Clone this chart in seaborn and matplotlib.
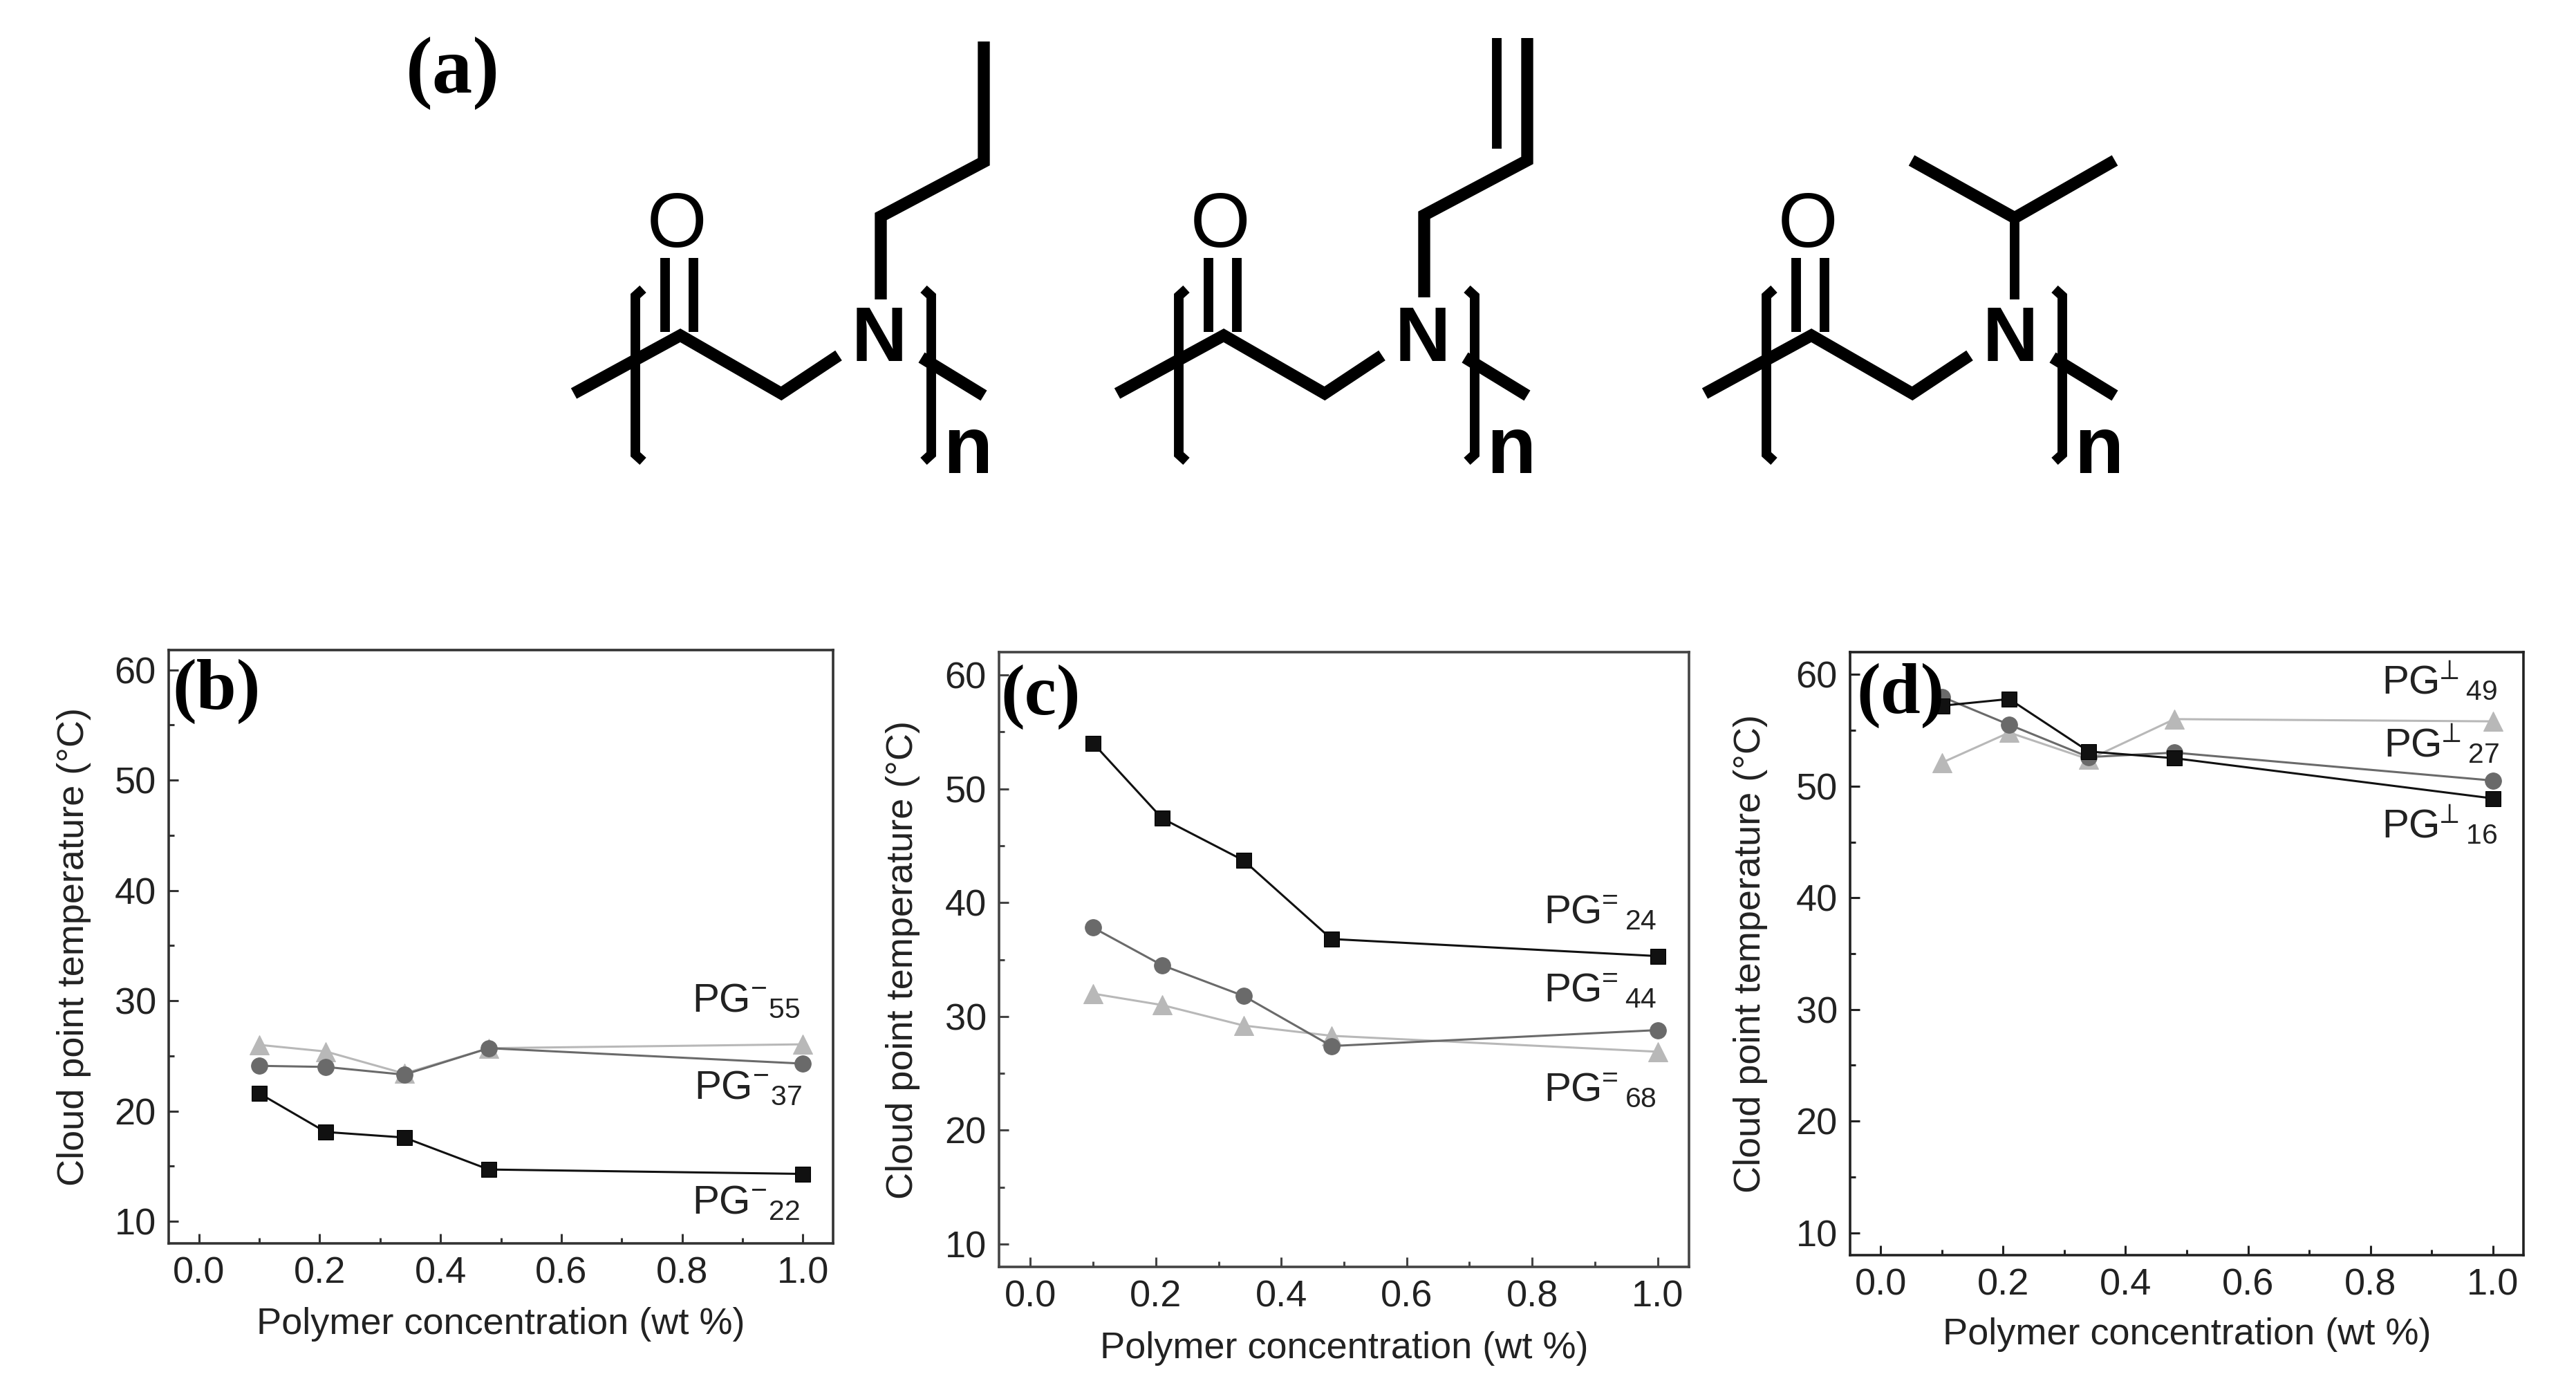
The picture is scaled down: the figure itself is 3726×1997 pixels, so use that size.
import matplotlib
matplotlib.use("Agg")
import matplotlib.pyplot as plt
import seaborn as sns

sns.set_theme(style="ticks")
plt.rcParams["font.family"] = ["Liberation Sans", "DejaVu Sans"]
plt.rcParams["mathtext.fontset"] = "custom"
plt.rcParams["mathtext.rm"] = "Liberation Sans"
plt.rcParams["mathtext.default"] = "rm"

W, H = 3726, 1997

# Data
conc = [0.1, 0.21, 0.34, 0.48, 1.0]

b_square = [21.6, 18.1, 17.6, 14.7, 14.3]
b_circle = [24.1, 24.0, 23.3, 25.7, 24.3]
b_triangle = [26.0, 25.4, 23.4, 25.7, 26.05]

c_square = [54.0, 47.4, 43.7, 36.8, 35.3]
c_circle = [37.8, 34.5, 31.8, 27.4, 28.8]
c_triangle = [32.0, 31.0, 29.2, 28.3, 26.9]

d_square = [57.2, 57.8, 53.1, 52.5, 48.9]
d_circle = [58.0, 55.5, 52.6, 53.0, 50.5]
d_triangle = [52.1, 54.8, 52.4, 56.0, 55.8]

x_ticks = [0.0, 0.2, 0.4, 0.6, 0.8, 1.0]
y_ticks = [10, 20, 30, 40, 50, 60]
x_label = "Polymer concentration (wt %)"
y_label = "Cloud point temperature (°C)"


def pg(sym, n):
    if sym == "-":
        return r"$PG{}^{-}{}_{%s}$" % n
    return r"$PG\!{}^{%s}{}_{%s}$" % (sym, n)


# panel settings: box in pixels, limits, label, series, annotations
panels = [
    dict(box=(244, 940, 1205, 1798), ylim=(8.0, 61.8), tag="(b)", tag_xy=(249, 1025),
         xlab_y=1915, ylab_x=107, sq=b_square, ci=b_circle, tr=b_triangle,
         notes=[(pg("-", 55), 0.817, 29.0), (pg("-", 37), 0.82, 21.1), (pg("-", 22), 0.817, 10.7)],
         spine="#333333"),
    dict(box=(1445, 943, 2443, 1832), ylim=(8.0, 62.0), tag="(c)", tag_xy=(1447, 1033),
         xlab_y=1950, ylab_x=1306, sq=c_square, ci=c_circle, tr=c_triangle,
         notes=[(pg("=", 24), 0.818, 38.2), (pg("=", 44), 0.818, 31.3), (pg("=", 68), 0.818, 22.55)],
         spine="#444444"),
    dict(box=(2676, 943, 3650, 1815), ylim=(8.0, 62.0), tag="(d)", tag_xy=(2685, 1031),
         xlab_y=1930, ylab_x=2532, sq=d_square, ci=d_circle, tr=d_triangle,
         notes=[(pg(r"\perp", 49), 0.818, 58.3), (pg(r"\perp", 27), 0.822, 52.6), (pg(r"\perp", 16), 0.818, 45.4)],
         spine="#222222"),
]

fig = plt.figure(figsize=(W / 100, H / 100), dpi=100, facecolor="white")

for p in panels:
    x0, y0, x1, y1 = p["box"]
    ax = fig.add_axes([x0 / W, 1 - y1 / H, (x1 - x0) / W, (y1 - y0) / H])
    sns.lineplot(x=conc, y=p["tr"], ax=ax, color="#b8b8b8", marker="^", markersize=20, linewidth=2.2,
                 markeredgecolor="#b8b8b8", errorbar=None)
    sns.lineplot(x=conc, y=p["ci"], ax=ax, color="#6a6a6a", marker="o", markersize=17, linewidth=2.2,
                 markeredgecolor="#6a6a6a", errorbar=None)
    sns.lineplot(x=conc, y=p["sq"], ax=ax, color="#111111", marker="s", markersize=16, linewidth=2.2,
                 markeredgecolor="#000000", errorbar=None)
    ax.set_xlim(-0.05, 1.05)
    ax.set_ylim(*p["ylim"])
    ax.set_xticks(x_ticks)
    ax.set_xticklabels(["%.1f" % t for t in x_ticks])
    ax.set_yticks(y_ticks)
    ax.set_xticks([0.1, 0.3, 0.5, 0.7, 0.9], minor=True)
    ax.set_yticks([15, 25, 35, 45, 55], minor=True)
    ax.tick_params(axis="both", which="major", direction="in", length=10, width=2.2, color=p["spine"],
                   labelsize=39, labelcolor="#222222", pad=13)
    ax.tick_params(axis="both", which="minor", direction="in", length=6, width=2.2, color=p["spine"])
    for s in ax.spines.values():
        s.set_linewidth(2.6)
        s.set_color(p["spine"])
        s.set_visible(True)
    ax.set_xlabel(x_label, fontsize=39, color="#222222")
    ax.set_ylabel(y_label, fontsize=39, color="#222222")
    ax.xaxis.set_label_coords(0.5, (y1 - p["xlab_y"]) / (y1 - y0), transform=ax.transAxes)
    ax.yaxis.set_label_coords((p["ylab_x"] - x0) / (x1 - x0), 0.5, transform=ax.transAxes)
    ax.xaxis.label.set_verticalalignment("center")
    ax.yaxis.label.set_verticalalignment("center")
    for txt, nx, ny in p["notes"]:
        ax.text(nx, ny, txt, fontsize=42, color="#222222", va="baseline", ha="left")

# overlay in pixel coordinates for the structures and panel tags
ov = fig.add_axes([0, 0, 1, 1], facecolor="none")
ov.set_xlim(0, W)
ov.set_ylim(H, 0)
ov.axis("off")

serif = ["Liberation Serif", "DejaVu Serif"]
ov.text(587, 133, "(a)", fontsize=84, fontweight="bold", family=serif, color="black", va="baseline")
for p in panels:
    ov.text(p["tag_xy"][0], p["tag_xy"][1], p["tag"], fontsize=75, fontweight="bold", family=serif,
            color="black", va="baseline")


def stroke(pts, dx=0, lw=12.5):
    ov.plot([q[0] + dx for q in pts], [q[1] for q in pts], color="black", lw=lw,
            solid_capstyle="butt", solid_joinstyle="miter")


backbone = [(830, 569), (984, 485), (1130, 569), (1213, 514)]
right_arm = [(1333, 517), (1423, 572)]
carbonyl_a = [(962, 373), (962, 480)]
carbonyl_b = [(1003, 373), (1003, 480)]
left_bracket = [(930, 418), (919, 428), (919, 657), (930, 667)]
right_bracket = [(1336, 418), (1347, 428), (1347, 657), (1336, 667)]

for dx in (0, 786, 1636):
    stroke(backbone, dx)
    stroke(right_arm, dx)
    stroke(carbonyl_a, dx, 10)
    stroke(carbonyl_b, dx, 10)
    stroke(left_bracket, dx, 10)
    stroke(right_bracket, dx, 10)
    ov.text(979 + dx, 328, "O", fontsize=80, color="black", ha="center", va="center")
    ov.text(1272 + dx, 493, "N", fontsize=80, fontweight="bold", color="black", ha="center", va="center")
    ov.text(1400 + dx, 684, "n", fontsize=84, fontweight="bold", color="black", ha="center", va="baseline")

# side groups
stroke([(1274, 433), (1274, 313), (1423, 234), (1423, 60)])
stroke([(2060, 430), (2060, 311), (2209, 232), (2209, 55)])
stroke([(2165, 55), (2165, 215)], lw=10)
stroke([(2914, 433), (2914, 315)], lw=10)
stroke([(2765, 232), (2914, 315), (3059, 232)])

fig.savefig("out.png", dpi=100)
